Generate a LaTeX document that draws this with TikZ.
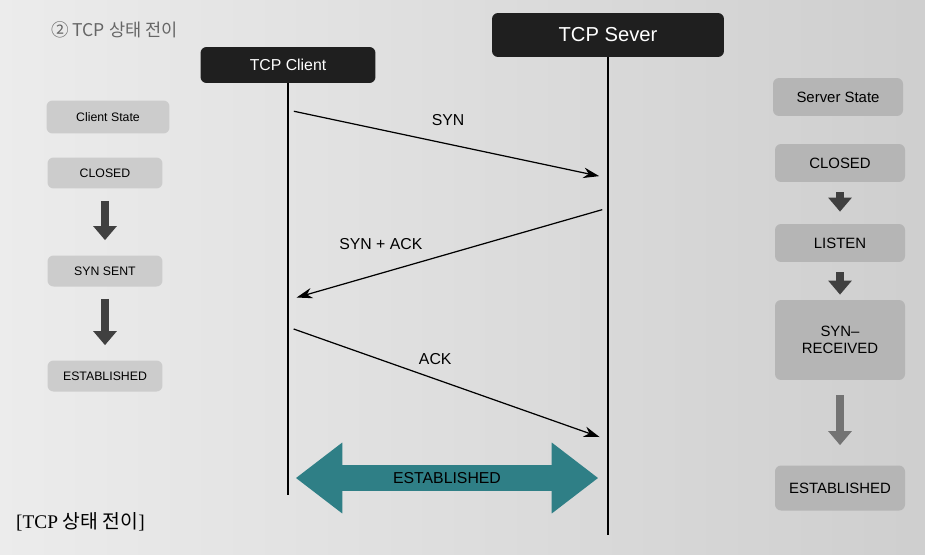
\documentclass[tikz,border=0pt]{standalone}
\usepackage{fontspec}
\setmainfont{Liberation Sans}
\newfontfamily\krfont{Noto Sans CJK KR}
\newfontfamily\capfont{Liberation Serif}
\usetikzlibrary{arrows.meta,shapes.arrows}
\definecolor{estabteal}{HTML}{2F7F86}
\tikzset{
  header/.style={fill=black!88, text=white, rounded corners=0.12cm, minimum height=0.72cm},
  cstatebox/.style={fill=gray!40, rounded corners=0.12cm, minimum width=2.3cm, minimum height=0.62cm, font=\fontsize{7}{8}\selectfont},
  sstatebox/.style={cstatebox, fill=gray!58, minimum width=2.6cm, minimum height=0.76cm, font=\fontsize{8.5}{10}\selectfont},
  statearrow/.style={draw=black!75, line width=4.5pt, -{Triangle[width=13pt,length=8pt]}},
  lifeline/.style={line width=1pt},
  msg/.style={line width=0.7pt, -{Stealth[length=9pt,width=6pt]}, shorten <=0.12cm, shorten >=0.18cm},
  msglabel/.style={font=\fontsize{9}{10}\selectfont}
}
\begin{document}
\begin{tikzpicture}[x=0.02cm,y=-0.02cm]
  \useasboundingbox (0,0) rectangle (925,554);
  \shade[left color=gray!15, middle color=gray!3, right color=gray!38] (0,0) rectangle (925,554);
  \node[anchor=west, text=black!60, font=\krfont\fontsize{10}{12}\selectfont] (title) at (45,30) {② TCP 상태 전이};
  % en-tetes et lignes de vie
  \node[header, minimum width=3.5cm, font=\fontsize{9}{10}\selectfont] (client) at (288,65) {TCP Client};
  \node[header, minimum width=4.64cm, minimum height=0.88cm, font=\fontsize{11.5}{13}\selectfont] (server) at (608,35) {TCP Sever};
  \coordinate (cbot) at (288,495);
  \coordinate (sbot) at (608,535);
  \draw[lifeline] (client.south) -- (cbot);
  \draw[lifeline] (server.south) -- (sbot);
  % messages
  \coordinate (c1) at (288,110); \coordinate (s1) at (608,178);
  \coordinate (s2) at (608,208); \coordinate (c2) at (288,300);
  \coordinate (c3) at (288,327); \coordinate (s3) at (608,440);
  \draw[msg] (c1) -- node[msglabel, midway, above=0.24cm] (synlabel) {SYN} (s1);
  \draw[msg] (s2) -- node[msglabel, pos=0.71, above=0.34cm] (synacklabel) {SYN + ACK} (c2);
  \draw[msg] (c3) -- node[msglabel, pos=0.46, above=0.16cm] (acklabel) {ACK} (s3);
  \node[double arrow, fill=estabteal, minimum height=6.04cm, inner sep=4pt,
        double arrow head extend=0.45cm, double arrow tip angle=75,
        font=\fontsize{9}{10}\selectfont] (estab) at (447,478) {ESTABLISHED};
  % etats du client
  \node[cstatebox, minimum width=2.46cm, minimum height=0.66cm] (cstate) at (108,117) {Client State};
  \node[cstatebox] (cclosed) at (105,173) {CLOSED};
  \node[cstatebox] (csynsent) at (105,271) {SYN SENT};
  \node[cstatebox] (cestab) at (105,376) {ESTABLISHED};
  \draw[statearrow, shorten <=0.24cm, shorten >=0.3cm] (cclosed) -- (csynsent);
  \draw[statearrow, shorten <=0.24cm, shorten >=0.3cm] (csynsent) -- (cestab);
  % etats du serveur
  \node[sstatebox] (sstate) at (838,97) {Server State};
  \node[sstatebox] (sclosed) at (840,163) {CLOSED};
  \node[sstatebox] (slisten) at (840,243) {LISTEN};
  \node[sstatebox, minimum height=1.6cm, align=center] (ssynrcvd) at (840,340) {SYN--\\RECEIVED};
  \node[sstatebox, minimum height=0.9cm] (sestab) at (840,488) {ESTABLISHED};
  \draw[statearrow, shorten <=0.2cm, shorten >=0.24cm] (sclosed) -- (slisten);
  \draw[statearrow, shorten <=0.2cm, shorten >=0.1cm] (slisten) -- (ssynrcvd);
  \draw[statearrow, draw=black!55, shorten <=0.3cm, shorten >=0.4cm] (ssynrcvd) -- (sestab);
  \node[anchor=west, font=\fontsize{11}{13}\selectfont] (caption) at (10,522) {\capfont[TCP \krfont 상태 전이\capfont]};
\end{tikzpicture}
\end{document}
